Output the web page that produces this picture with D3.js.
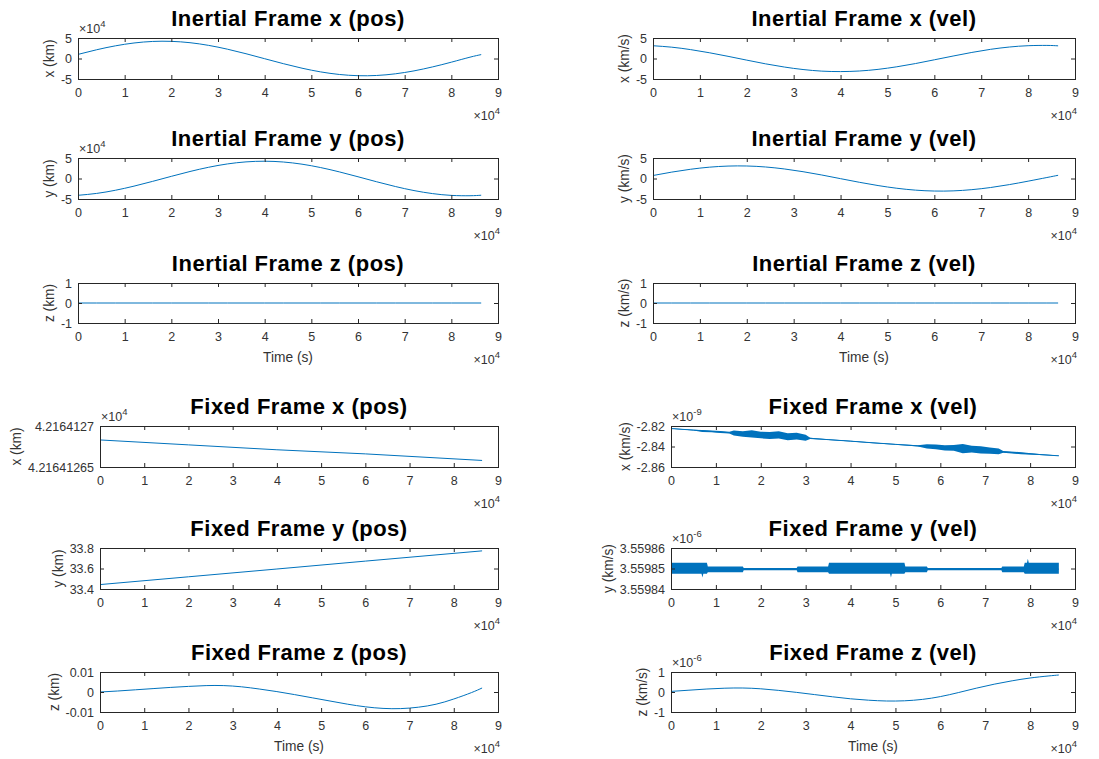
<!DOCTYPE html>
<html>
<head>
<meta charset="utf-8">
<title>Inertial and Fixed Frame</title>
<script src="https://cdn.jsdelivr.net/npm/d3@7"></script>
<style>
  body { margin: 0; background: #fff; }
</style>
</head>
<body>
<svg id="chart" width="1099" height="759"></svg>
<script>
// ---- data (values in the units shown on the axes, time in x10^4 s) ----
const timeE4 = [0, 0.4, 0.8, 1.2, 1.6, 2.0, 2.4, 2.8, 3.2, 3.6, 4.0, 4.4, 4.8, 5.2, 5.6, 6.0, 6.4, 6.8, 7.2, 7.6, 8.0, 8.4, 8.64];
const timeLinE4 = [0, 2, 4, 6, 8.64];
const xTicks = [0, 1, 2, 3, 4, 5, 6, 7, 8, 9];

// inertial frame (pos in x10^4 km, vel in km/s)
const inertialXPos = [0.999, 2.134, 3.086, 3.783, 4.158, 4.183, 3.854, 3.200, 2.277, 1.164, -0.051, -1.261, -2.365, -3.268, -3.896, -4.195, -4.140, -3.736, -3.019, -2.045, -0.898, 0.325, 0.95];
const inertialYPos = [-4.098, -3.636, -2.870, -1.862, -0.696, 0.528, 1.708, 2.744, 3.549, 4.053, 4.216, 4.024, 3.492, 2.665, 1.614, 0.426, -0.797, -1.953, -2.944, -3.688, -4.120, -4.204, -4.078];
const inertialZPos = [0, 0, 0, 0, 0, 0, 0, 0, 0, 0, 0, 0, 0, 0, 0, 0, 0, 0, 0, 0, 0, 0, 0];
const inertialXVel = [3.11, 2.76, 2.17, 1.41, 0.53, -0.40, -1.30, -2.08, -2.69, -3.08, -3.19, -3.05, -2.65, -2.02, -1.23, -0.32, 0.60, 1.48, 2.24, 2.80, 3.12, 3.19, 3.09];
const inertialYVel = [0.73, 1.56, 2.25, 2.76, 3.03, 3.05, 2.81, 2.33, 1.66, 0.85, -0.04, -0.92, -1.72, -2.38, -2.84, -3.06, -3.02, -2.72, -2.20, -1.49, -0.65, 0.24, 0.78];
const inertialZVel = [0, 0, 0, 0, 0, 0, 0, 0, 0, 0, 0, 0, 0, 0, 0, 0, 0, 0, 0, 0, 0, 0, 0];

// fixed frame positions
const fixedXPos = [4.216412683, 4.216412677, 4.216412671, 4.216412666, 4.216412658]; // x10^4 km
const fixedYPos = [33.443, 33.519, 33.595, 33.672, 33.772]; // km
const fixedZPos = [0, 0.0005, 0.0011, 0.0017, 0.0023, 0.0028, 0.0032, 0.0032, 0.0026, 0.0015, 0.0002, -0.0013, -0.0029, -0.0045, -0.0061, -0.0074, -0.0082, -0.0083, -0.0076, -0.0061, -0.0035, -0.0003, 0.0020]; // km

// fixed frame x velocity (x10^-9 km/s): trend and noise envelope
const xVelTime = [0, 0.5, 0.7, 0.9, 1.1, 1.3, 1.4, 1.6, 1.8, 2.0, 2.2, 2.4, 2.6, 2.8, 3.0, 3.1, 3.5, 4.0, 4.5, 5.0, 5.5, 5.7, 5.9, 6.1, 6.3, 6.5, 6.7, 6.9, 7.1, 7.3, 7.4, 7.8, 8.2, 8.64];
const fixedXVel = [-2.8225, -2.8240, -2.8247, -2.8253, -2.8259, -2.8265, -2.8268, -2.8274, -2.8280, -2.8287, -2.8293, -2.8299, -2.8305, -2.8311, -2.8317, -2.8320, -2.8333, -2.8348, -2.8364, -2.8379, -2.8394, -2.8401, -2.8407, -2.8413, -2.8419, -2.8425, -2.8431, -2.8438, -2.8444, -2.8450, -2.8453, -2.8465, -2.8478, -2.8491];
const fixedXVelHi = [-2.8222, -2.8237, -2.8238, -2.8243, -2.8248, -2.8255, -2.8245, -2.8250, -2.8242, -2.8255, -2.8258, -2.8250, -2.8270, -2.8265, -2.8285, -2.8314, -2.8329, -2.8344, -2.8360, -2.8375, -2.8388, -2.8378, -2.8380, -2.8388, -2.8385, -2.8375, -2.8392, -2.8398, -2.8410, -2.8420, -2.8445, -2.8455, -2.8473, -2.8489];
const fixedXVelLo = [-2.8228, -2.8243, -2.8258, -2.8262, -2.8268, -2.8274, -2.8292, -2.8305, -2.8312, -2.8320, -2.8328, -2.8322, -2.8338, -2.8332, -2.8345, -2.8326, -2.8337, -2.8352, -2.8368, -2.8383, -2.8400, -2.8420, -2.8428, -2.8440, -2.8442, -2.8465, -2.8458, -2.8468, -2.8470, -2.8475, -2.8461, -2.8475, -2.8483, -2.8493];

// fixed frame y velocity (x10^-6 km/s): level and noise envelope
const yVelLevelTime = [0, 8.64];
const fixedYVel = [3.5598497, 3.5598497];
const yVelTime = [0, 0.68, 0.7, 0.72, 0.8, 0.82, 1.6, 1.62, 2.8, 2.82, 3.5, 3.52, 4.88, 4.9, 4.92, 5.2, 5.22, 5.7, 5.72, 7.36, 7.38, 7.86, 7.88, 7.93, 7.95, 7.97, 8.64];
const fixedYVelHi = [3.5598528, 3.5598528, 3.5598528, 3.5598528, 3.5598528, 3.5598510, 3.5598510, 3.5598502, 3.5598502, 3.5598510, 3.5598510, 3.5598528, 3.5598528, 3.5598528, 3.5598528, 3.5598528, 3.5598510, 3.5598510, 3.5598502, 3.5598502, 3.5598510, 3.5598510, 3.5598528, 3.5598528, 3.5598548, 3.5598528, 3.5598528];
const fixedYVelLo = [3.5598475, 3.5598475, 3.5598456, 3.5598475, 3.5598475, 3.5598482, 3.5598482, 3.5598491, 3.5598491, 3.5598482, 3.5598482, 3.5598475, 3.5598475, 3.5598456, 3.5598475, 3.5598475, 3.5598482, 3.5598482, 3.5598491, 3.5598491, 3.5598482, 3.5598482, 3.5598475, 3.5598475, 3.5598475, 3.5598475, 3.5598475];

// fixed frame z velocity (x10^-6 km/s)
const fixedZVel = [0.03, 0.09, 0.15, 0.19, 0.20, 0.16, 0.08, -0.02, -0.13, -0.24, -0.34, -0.41, -0.45, -0.44, -0.37, -0.23, -0.03, 0.19, 0.39, 0.56, 0.70, 0.80, 0.85];

// ---- panels ----
const panels = [
  { title: "Inertial Frame x (pos)", ylabel: "x (km)", box: [78, 38, 498, 79], yDomain: [-5, 5], yTicks: [-5, 0, 5], yLabels: ["-5", "0", "5"], yExp: "4", t: timeE4, v: inertialXPos, smooth: true },
  { title: "Inertial Frame y (pos)", ylabel: "y (km)", box: [78, 158, 498, 199], yDomain: [-5, 5], yTicks: [-5, 0, 5], yLabels: ["-5", "0", "5"], yExp: "4", t: timeE4, v: inertialYPos, smooth: true },
  { title: "Inertial Frame z (pos)", ylabel: "z (km)", xlabel: "Time (s)", box: [78, 283, 498, 323], yDomain: [-1, 1], yTicks: [-1, 0, 1], yLabels: ["-1", "0", "1"], t: timeE4, v: inertialZPos },
  { title: "Inertial Frame x (vel)", ylabel: "x (km/s)", box: [653, 38, 1075, 79], yDomain: [-5, 5], yTicks: [-5, 0, 5], yLabels: ["-5", "0", "5"], t: timeE4, v: inertialXVel, smooth: true },
  { title: "Inertial Frame y (vel)", ylabel: "y (km/s)", box: [653, 158, 1075, 199], yDomain: [-5, 5], yTicks: [-5, 0, 5], yLabels: ["-5", "0", "5"], t: timeE4, v: inertialYVel, smooth: true },
  { title: "Inertial Frame z (vel)", ylabel: "z (km/s)", xlabel: "Time (s)", box: [653, 283, 1075, 323], yDomain: [-1, 1], yTicks: [-1, 0, 1], yLabels: ["-1", "0", "1"], t: timeE4, v: inertialZVel },
  { title: "Fixed Frame x (pos)", ylabel: "x (km)", box: [100, 426, 498, 467], yDomain: [4.21641265, 4.2164127], yTicks: [4.21641265, 4.2164127], yLabels: ["4.21641265", "4.2164127"], yExp: "4", t: timeLinE4, v: fixedXPos },
  { title: "Fixed Frame y (pos)", ylabel: "y (km)", box: [100, 548, 498, 589], yDomain: [33.4, 33.8], yTicks: [33.4, 33.6, 33.8], yLabels: ["33.4", "33.6", "33.8"], t: timeLinE4, v: fixedYPos },
  { title: "Fixed Frame z (pos)", ylabel: "z (km)", xlabel: "Time (s)", box: [100, 672, 498, 712], yDomain: [-0.01, 0.01], yTicks: [-0.01, 0, 0.01], yLabels: ["-0.01", "0", "0.01"], t: timeE4, v: fixedZPos, smooth: true },
  { title: "Fixed Frame x (vel)", ylabel: "x (km/s)", box: [671, 426, 1075, 467], yDomain: [-2.86, -2.82], yTicks: [-2.86, -2.84, -2.82], yLabels: ["-2.86", "-2.84", "-2.82"], yExp: "-9", t: xVelTime, v: fixedXVel, band: { t: xVelTime, lo: fixedXVelLo, hi: fixedXVelHi } },
  { title: "Fixed Frame y (vel)", ylabel: "y (km/s)", box: [671, 548, 1075, 589], yDomain: [3.55984, 3.55986], yTicks: [3.55984, 3.55985, 3.55986], yLabels: ["3.55984", "3.55985", "3.55986"], yExp: "-6", t: yVelLevelTime, v: fixedYVel, band: { t: yVelTime, lo: fixedYVelLo, hi: fixedYVelHi } },
  { title: "Fixed Frame z (vel)", ylabel: "z (km/s)", xlabel: "Time (s)", box: [671, 672, 1075, 712], yDomain: [-1, 1], yTicks: [-1, 0, 1], yLabels: ["-1", "0", "1"], yExp: "-6", t: timeE4, v: fixedZVel, smooth: true }
];

const FONT = '"Liberation Sans", Arial, Helvetica, sans-serif';
const blue = "#0072BD";
const axisColor = "#262626";
const tickColor = "#333333";

const svg = d3.select("#chart").attr("font-family", FONT);
svg.append("rect").attr("width", 1099).attr("height", 759).attr("fill", "#fff");

function styleAxis(a) {
  a.attr("font-family", FONT).attr("font-size", 12.5);
  a.select(".domain").remove();
  a.selectAll("line").attr("stroke", axisColor);
  a.selectAll("text").attr("fill", tickColor);
}

function expLabel(g, x, y, exp, anchor) {
  const tx = g.append("text").attr("x", x).attr("y", y)
    .attr("text-anchor", anchor).attr("font-size", 12.5).attr("fill", tickColor);
  tx.append("tspan").text("\u00d710");
  tx.append("tspan").attr("dy", -6).attr("font-size", 9.5).text(exp);
}

panels.forEach((p, idx) => {
  const [l, t, r, b] = p.box;
  const x = d3.scaleLinear().domain([0, 9]).range([l, r]);
  const y = d3.scaleLinear().domain(p.yDomain).range([b, t]);
  const g = svg.append("g");

  g.append("clipPath").attr("id", "clip" + idx)
    .append("rect").attr("x", l).attr("y", t).attr("width", r - l).attr("height", b - t);
  const plot = g.append("g").attr("clip-path", `url(#clip${idx})`);

  if (p.band) {
    const rows = p.band.t.map((tt, i) => ({ t: tt, lo: p.band.lo[i], hi: p.band.hi[i] }));
    plot.append("path").datum(rows)
      .attr("fill", blue)
      .attr("d", d3.area().x(d => x(d.t)).y0(d => y(d.lo)).y1(d => y(d.hi)));
  }
  const pts = p.t.map((tt, i) => ({ t: tt, v: p.v[i] }));
  plot.append("path").datum(pts)
    .attr("fill", "none").attr("stroke", blue).attr("stroke-width", 1)
    .attr("d", d3.line().curve(p.smooth ? d3.curveNatural : d3.curveLinear)
      .x(d => x(d.t)).y(d => y(d.v)));

  // axes, ticks pointing inward on all four sides
  const xb = g.append("g").attr("transform", `translate(0,${b})`)
    .call(d3.axisBottom(x).tickValues(xTicks).tickFormat(d3.format("d"))
      .tickSizeInner(-4).tickSizeOuter(0).tickPadding(9));
  const xt = g.append("g").attr("transform", `translate(0,${t})`)
    .call(d3.axisTop(x).tickValues(xTicks).tickFormat("").tickSizeInner(-4).tickSizeOuter(0));
  const yl = g.append("g").attr("transform", `translate(${l},0)`)
    .call(d3.axisLeft(y).tickValues(p.yTicks).tickFormat((d, i) => p.yLabels[i])
      .tickSizeInner(-4).tickSizeOuter(0).tickPadding(6));
  const yr = g.append("g").attr("transform", `translate(${r},0)`)
    .call(d3.axisRight(y).tickValues(p.yTicks).tickFormat("").tickSizeInner(-4).tickSizeOuter(0));
  [xb, xt, yl, yr].forEach(styleAxis);

  g.append("rect").attr("x", l + 0.5).attr("y", t + 0.5)
    .attr("width", r - l).attr("height", b - t)
    .attr("fill", "none").attr("stroke", axisColor).attr("stroke-width", 1);

  // title
  g.append("text").attr("x", (l + r) / 2).attr("y", t - 12)
    .attr("text-anchor", "middle").attr("font-size", 22).attr("font-weight", "bold")
    .attr("letter-spacing", 0.5).attr("fill", "#000").text(p.title);

  // y label, placed left of the tick labels
  const bb = yl.node().getBBox();
  g.append("text")
    .attr("transform", `translate(${l + bb.x - 11},${(t + b) / 2}) rotate(-90)`)
    .attr("text-anchor", "middle").attr("dy", "0.3em")
    .attr("font-size", 13.75).attr("fill", tickColor).text(p.ylabel);

  if (p.xlabel) {
    g.append("text").attr("x", (l + r) / 2).attr("y", b + 39)
      .attr("text-anchor", "middle").attr("font-size", 13.75).attr("fill", tickColor)
      .text(p.xlabel);
  }

  // exponent labels
  expLabel(g, r + 2, b + 40.5, "4", "end");
  if (p.yExp) expLabel(g, l + 1, t - 5, p.yExp, "start");
});
</script>
</body>
</html>
